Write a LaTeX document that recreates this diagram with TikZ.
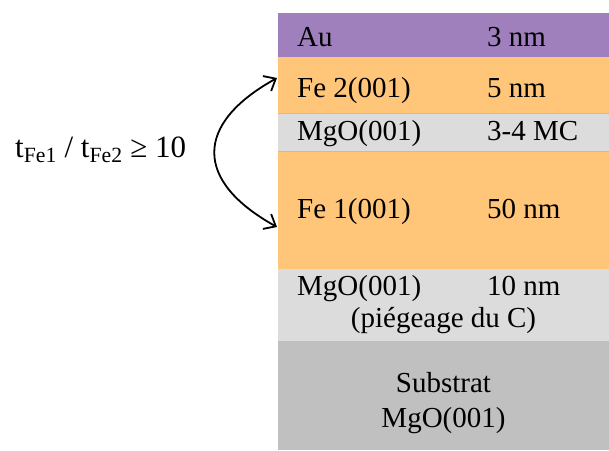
\documentclass[tikz,border=0pt]{standalone}
\usepackage{fontspec}
\setmainfont{Liberation Serif}
\usetikzlibrary{arrows.meta}
\definecolor{aucol}{RGB}{160,128,188}
\definecolor{fecol}{RGB}{255,198,122}
\definecolor{mgocol}{RGB}{220,220,220}
\definecolor{subcol}{RGB}{192,192,192}
\tikzset{
  layer/.style={inner sep=0pt, minimum width=331pt, anchor=north west},
  lbl/.style={inner sep=0pt, font=\fontsize{29}{34}\selectfont}
}
\begin{document}
\begin{tikzpicture}[x=1pt,y=-1pt]
        \useasboundingbox (0,0) rectangle (609,450);
        % Strati
        \node [layer, fill=aucol, minimum height=44pt] (au) at (278,13) {};
        \node [layer, fill=fecol, minimum height=56pt] (fe2) at (278,57) {};
        \node [layer, fill=mgocol, minimum height=38pt] (mgo1) at (278,113) {};
        \node [layer, fill=fecol, minimum height=118pt] (fe1) at (278,151) {};
        \node [layer, fill=mgocol, minimum height=72pt] (mgo2) at (278,269) {};
        \node [layer, fill=subcol, minimum height=109pt] (sub) at (278,341) {};
        \draw [fecol!70!black!60, line width=0.6pt] (mgo1.north west) -- (mgo1.north east);
        \draw [fecol!70!black!60, line width=0.6pt] (mgo1.south west) -- (mgo1.south east);
        % Testi
        \node [lbl, anchor=base west] (auname) at (297,46) {Au};
        \node [lbl, anchor=base west] (authick) at (487,46) {3 nm};
        \node [lbl, anchor=base west] (fe2name) at (297,97) {Fe 2(001)};
        \node [lbl, anchor=base west] (fe2thick) at (487,97) {5 nm};
        \node [lbl, anchor=base west] (mgo1name) at (297,140) {MgO(001)};
        \node [lbl, anchor=base west] (mgo1thick) at (487,140) {3-4 MC};
        \node [lbl, anchor=base west] (fe1name) at (297,218) {Fe 1(001)};
        \node [lbl, anchor=base west] (fe1thick) at (487,218) {50 nm};
        \node [lbl, anchor=base west] (mgo2name) at (297,295) {MgO(001)};
        \node [lbl, anchor=base west] (mgo2thick) at (487,295) {10 nm};
        \node [lbl, anchor=base] (mgo2note) at (443.5,327) {(piégeage du C)};
        \node [lbl, anchor=base] (subname) at (443.5,392) {Substrat};
        \node [lbl, anchor=base] (subcrys) at (443.5,427) {MgO(001)};
        \node [lbl, anchor=base west, font=\fontsize{31}{36}\selectfont] (ratio) at (15,157)
              {t\textsubscript{Fe1} / t\textsubscript{Fe2} ≥ 10};
        % Freccia
        \coordinate (top) at (277,78);
        \coordinate (bot) at (277,227);
        \draw [{Straight Barb[length=10pt,width=17pt]}-{Straight Barb[length=10pt,width=17pt]}, line width=1.8pt]
              (top) .. controls (194,124) and (194,181) .. (bot);
    \end{tikzpicture}
\end{document}
